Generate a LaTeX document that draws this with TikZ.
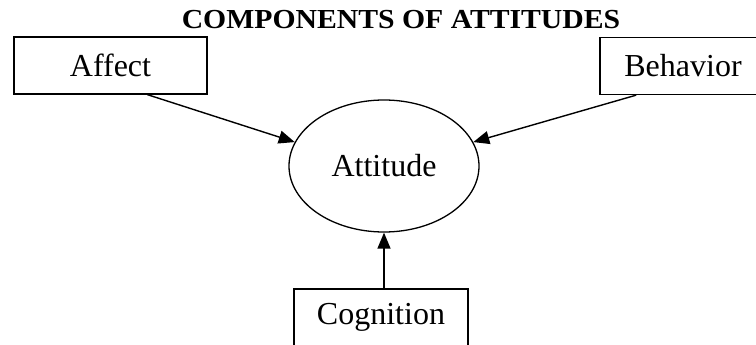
\documentclass[tikz,border=0pt]{standalone}
\usepackage{fontspec}
\setmainfont{Liberation Serif}
\usetikzlibrary{arrows.meta,shapes.geometric,calc}
\tikzset{
  compbox/.style={draw, line width=1.3pt, rectangle, inner sep=0pt, minimum height=57pt, font=\fontsize{32}{36}\selectfont},
  centre/.style={draw, line width=1.3pt, ellipse, inner sep=0pt, minimum width=190pt, minimum height=132pt, font=\fontsize{32}{36}\selectfont},
  link/.style={line width=1.4pt, -{Triangle[length=16pt,width=13pt]}}
}
\begin{document}
\begin{tikzpicture}[x=1pt,y=-1pt]
\useasboundingbox (0,0) rectangle (756,345);
\clip (0,0) rectangle (756,345);
\node[anchor=base, font=\bfseries\fontsize{27.5}{30}\selectfont] (title) at (401,29) {\scalebox{1.08}[1]{COMPONENTS OF ATTITUDES}};
\node[compbox, minimum width=193pt] (affect) at (110.5,65.5) {Affect};
\node[compbox, minimum width=166pt] (behavior) at (683,66) {Behavior};
\node[compbox, minimum width=174pt] (cognition) at (381,317.5) {Cognition};
\node[centre] (attitude) at (384,166) {Attitude};
\coordinate (afrom) at ($(affect.south west)!0.69!(affect.south east)$);
\coordinate (bfrom) at ($(behavior.south west)!0.22!(behavior.south east)$);
\draw[link] (afrom) -- (attitude.165);
\draw[link] (bfrom) -- (attitude.15);
\draw[link] (attitude.south |- cognition.north) -- (attitude.south);
\end{tikzpicture}
\end{document}
